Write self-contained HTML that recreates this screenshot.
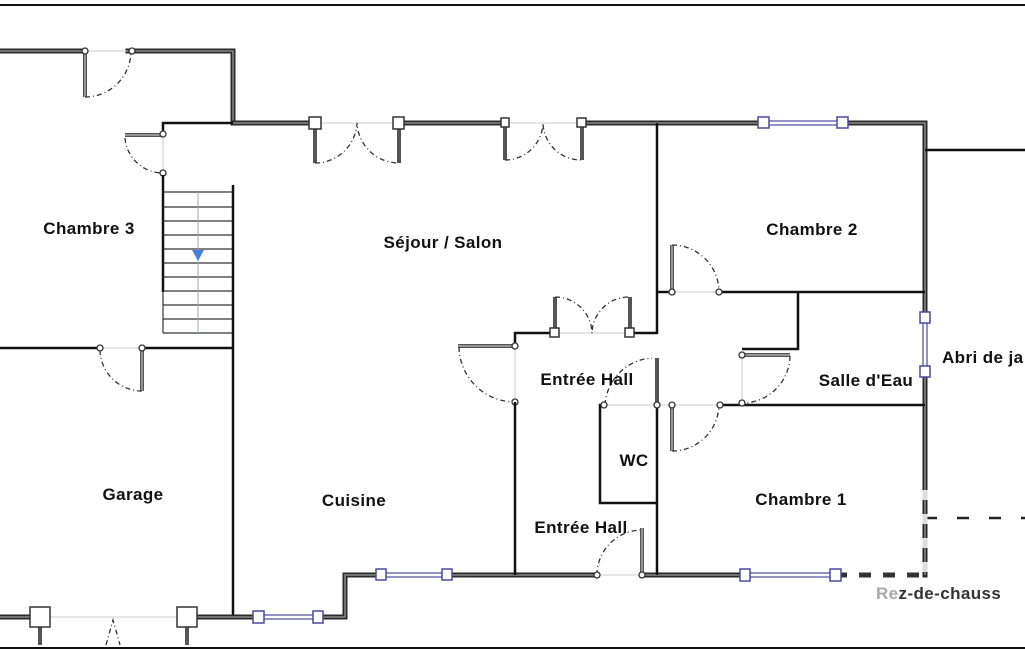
<!DOCTYPE html>
<html><head><meta charset="utf-8"><style>
html,body{margin:0;padding:0;background:#fff;width:1025px;height:650px;overflow:hidden}
svg{display:block}
text{font-family:"Liberation Sans",sans-serif;font-weight:bold;font-size:17px;letter-spacing:0.4px;fill:#111}
.w{stroke:#2a2a2a;stroke-width:5;fill:none;stroke-linecap:square}
.wi{stroke:#8a8a8a;stroke-width:1.5;fill:none}
.t{stroke:#111;stroke-width:2.5;fill:none}
.op{stroke:#ccc;stroke-width:1;fill:none}
.leaf{stroke:#555;stroke-width:4;fill:none}
.leafi{stroke:#aaa;stroke-width:1.5;fill:none}
.arc{stroke:#333;stroke-width:1.3;fill:none;stroke-dasharray:5,3,1,3}
.sq{fill:#fff;stroke:#333;stroke-width:1.5}
.bq{fill:#fff;stroke:#4a4aa0;stroke-width:1.5}
.c{fill:#fff;stroke:#333;stroke-width:1.3}
.st{stroke:#333;stroke-width:1.2}
</style></head><body>
<svg width="1025" height="650" viewBox="0 0 1025 650">
<line x1="0" y1="5" x2="1025" y2="5" stroke="#111" stroke-width="2"/>
<line x1="0" y1="648" x2="1025" y2="648" stroke="#111" stroke-width="2"/>

<path class="w" d="M0 51 H85 M128 51 H233 V123"/>
<path class="wi" d="M0 51 H85 M128 51 H233 V123"/>
<line class="op" x1="85" y1="51" x2="128" y2="51"/>
<line class="leaf" x1="85" y1="51" x2="85" y2="97"/><line class="leafi" x1="85" y1="51" x2="85" y2="97"/>
<path class="arc" d="M85 97 A46 46 0 0 0 131 51"/>
<circle class="c" cx="85" cy="51" r="3"/><circle class="c" cx="132" cy="51" r="3"/>

<path class="w" d="M233 123 H315 M398 123 H505 M582 123 H925 V575"/>
<path class="wi" d="M233 123 H315 M398 123 H505 M582 123 H925 V575"/>
<line class="op" x1="315" y1="123" x2="398" y2="123"/>
<line class="op" x1="505" y1="123" x2="582" y2="123"/>
<line class="leaf" x1="315" y1="123" x2="315" y2="163"/><line class="leaf" x1="399" y1="123" x2="399" y2="163"/>
<path class="arc" d="M315 163 A42 42 0 0 0 357 123 A42 42 0 0 0 399 163"/>
<line class="leaf" x1="505" y1="123" x2="505" y2="160"/><line class="leaf" x1="582" y1="123" x2="582" y2="160"/>
<path class="arc" d="M505 160 A38 38 0 0 0 543 123 A38 38 0 0 0 582 160"/>
<rect class="sq" x="309" y="117" width="12" height="12"/><rect class="sq" x="393" y="117" width="11" height="12"/>
<rect class="sq" x="501" y="118" width="8" height="9"/><rect class="sq" x="577" y="118" width="9" height="9"/>
<rect x="765" y="121" width="78" height="4" fill="#fff" stroke="#4a4aa0" stroke-width="1.2"/>
<rect class="bq" x="758" y="117" width="11" height="11"/><rect class="bq" x="837" y="117" width="11" height="11"/>
<rect x="923" y="322" width="4" height="48" fill="#fff" stroke="#4a4aa0" stroke-width="1.2"/>
<rect class="bq" x="920" y="312" width="10" height="11"/><rect class="bq" x="920" y="366" width="10" height="11"/>
<line class="t" x1="925" y1="150" x2="1025" y2="150"/>
<line x1="925" y1="518" x2="1025" y2="518" stroke="#222" stroke-width="2.5" stroke-dasharray="12,20"/>
<line x1="925" y1="490" x2="925" y2="580" stroke="#ddd" stroke-width="5" stroke-dasharray="10,14"/>

<path class="t" d="M233 123 H163 V133"/>
<line class="leaf" x1="125" y1="135" x2="163" y2="135"/><line class="leafi" x1="125" y1="135" x2="163" y2="135"/>
<line class="op" x1="163" y1="135" x2="163" y2="172"/>
<path class="arc" d="M125 138 A38 38 0 0 0 163 173"/>
<circle class="c" cx="163" cy="134" r="3"/><circle class="c" cx="163" cy="173" r="3"/>
<path class="t" d="M163 175 V292"/>
<g class="st">
<line x1="163" y1="192" x2="233" y2="192"/><line x1="163" y1="207" x2="233" y2="207"/>
<line x1="163" y1="221" x2="233" y2="221"/><line x1="163" y1="235" x2="233" y2="235"/>
<line x1="163" y1="249" x2="233" y2="249"/><line x1="163" y1="263" x2="233" y2="263"/>
<line x1="163" y1="277" x2="233" y2="277"/><line x1="163" y1="291" x2="233" y2="291"/>
<line x1="163" y1="305" x2="233" y2="305"/><line x1="163" y1="319" x2="233" y2="319"/>
<line x1="163" y1="333" x2="233" y2="333"/><line x1="163" y1="292" x2="163" y2="333"/>
</g>
<line x1="198" y1="192" x2="198" y2="333" stroke="#9ab" stroke-width="1"/>
<polygon points="192,250 204,250 198,261" fill="#4a7fd8"/>
<line class="t" x1="233" y1="185" x2="233" y2="617"/>

<path class="t" d="M0 348 H100 M142 348 H233"/>
<line class="op" x1="100" y1="348" x2="142" y2="348"/>
<line class="leaf" x1="142" y1="348" x2="142" y2="391"/><line class="leafi" x1="142" y1="348" x2="142" y2="391"/>
<path class="arc" d="M100 350 A42 42 0 0 0 142 391"/>
<circle class="c" cx="100" cy="348" r="3"/><circle class="c" cx="142" cy="348" r="3"/>

<path class="w" d="M0 617 H38 M186 617 H258 M318 617 H345 V575 H381 M447 575 H597 M642 575 H745"/>
<path class="wi" d="M0 617 H38 M186 617 H258 M318 617 H345 V575 H381 M447 575 H597 M642 575 H745"/>
<path d="M835 575 H925" stroke="#333" stroke-width="5" stroke-dasharray="12,12"/>
<line class="op" x1="38" y1="617" x2="186" y2="617"/>
<line class="leaf" x1="40" y1="617" x2="40" y2="645"/><line class="leaf" x1="187" y1="617" x2="187" y2="645"/>
<path class="arc" d="M106 645 L113 620 L120 645"/>
<rect class="sq" x="30" y="607" width="20" height="20"/><rect class="sq" x="177" y="607" width="20" height="20"/>
<rect x="258" y="615" width="60" height="4" fill="#fff" stroke="#4a4aa0" stroke-width="1.2"/>
<rect class="bq" x="253" y="611" width="11" height="12"/><rect class="bq" x="313" y="611" width="10" height="12"/>
<rect x="381" y="573" width="66" height="4" fill="#fff" stroke="#4a4aa0" stroke-width="1.2"/>
<rect class="bq" x="376" y="569" width="10" height="11"/><rect class="bq" x="442" y="569" width="10" height="11"/>
<rect x="745" y="573" width="90" height="4" fill="#fff" stroke="#4a4aa0" stroke-width="1.2"/>
<rect class="bq" x="740" y="569" width="10" height="12"/><rect class="bq" x="830" y="569" width="11" height="12"/>
<line class="op" x1="597" y1="575" x2="642" y2="575"/>
<line class="leaf" x1="642" y1="575" x2="642" y2="528"/><line class="leafi" x1="642" y1="575" x2="642" y2="528"/>
<path class="arc" d="M597 575 A45 45 0 0 1 642 530"/>
<circle class="c" cx="597" cy="575" r="3"/><circle class="c" cx="642" cy="575" r="3"/>

<path class="t" d="M657 123 V333 H630 M555 333 H515 V345"/>
<line class="op" x1="555" y1="333" x2="630" y2="333"/>
<line class="leaf" x1="555" y1="333" x2="555" y2="297"/><line class="leaf" x1="630" y1="333" x2="630" y2="297"/>
<path class="arc" d="M555 297 A37 37 0 0 1 592 333 A37 37 0 0 1 630 297"/>
<rect class="sq" x="550" y="328" width="9" height="9"/><rect class="sq" x="625" y="328" width="9" height="9"/>
<line class="leaf" x1="458" y1="346" x2="515" y2="346"/><line class="leafi" x1="458" y1="346" x2="515" y2="346"/>
<line class="op" x1="515" y1="346" x2="515" y2="402"/>
<path class="arc" d="M459 347 A56 56 0 0 0 515 402"/>
<circle class="c" cx="515" cy="346" r="3"/><circle class="c" cx="515" cy="402" r="3"/>
<line class="t" x1="515" y1="402" x2="515" y2="575"/>

<path class="t" d="M657 292 H671 M719 292 H925 M798 292 V349 H742"/>
<line class="op" x1="671" y1="292" x2="719" y2="292"/>
<line class="leaf" x1="672" y1="292" x2="672" y2="245"/><line class="leafi" x1="672" y1="292" x2="672" y2="245"/>
<path class="arc" d="M672 245 A47 47 0 0 1 719 292"/>
<circle class="c" cx="672" cy="292" r="3"/><circle class="c" cx="719" cy="292" r="3"/>
<line class="leaf" x1="744" y1="355" x2="790" y2="355"/><line class="leafi" x1="744" y1="355" x2="790" y2="355"/>
<line class="op" x1="742" y1="355" x2="742" y2="403"/>
<path class="arc" d="M790 356 A48 48 0 0 1 745 403"/>
<circle class="c" cx="742" cy="355" r="3"/>

<path class="t" d="M603 405 H600 V503 H657 M720 405 H925 M657 358 V575"/>
<line class="op" x1="603" y1="405" x2="720" y2="405"/>
<line class="leaf" x1="657" y1="358" x2="657" y2="405"/>
<path class="arc" d="M605 405 A50 50 0 0 1 652 358"/>
<line class="leaf" x1="672" y1="405" x2="672" y2="451"/><line class="leafi" x1="672" y1="405" x2="672" y2="451"/>
<path class="arc" d="M672 451 A47 47 0 0 0 719 405"/>
<circle class="c" cx="604" cy="405" r="3"/><circle class="c" cx="657" cy="405" r="3"/>
<circle class="c" cx="672" cy="405" r="3"/><circle class="c" cx="720" cy="405" r="3"/><circle class="c" cx="742" cy="403" r="3"/>

<text x="89" y="234" text-anchor="middle">Chambre 3</text>
<text x="443" y="248" text-anchor="middle">Séjour / Salon</text>
<text x="812" y="235" text-anchor="middle">Chambre 2</text>
<text x="587" y="385" text-anchor="middle">Entrée Hall</text>
<text x="866" y="386" text-anchor="middle">Salle d'Eau</text>
<text x="942" y="363">Abri de ja</text>
<text x="634" y="466" text-anchor="middle">WC</text>
<text x="133" y="500" text-anchor="middle">Garage</text>
<text x="354" y="506" text-anchor="middle">Cuisine</text>
<text x="581" y="533" text-anchor="middle">Entrée Hall</text>
<text x="801" y="505" text-anchor="middle">Chambre 1</text>
<text x="876" y="599" style="fill:#333"><tspan style="fill:#aaa">Re</tspan>z-de-chauss</text>
</svg>
</body></html>
